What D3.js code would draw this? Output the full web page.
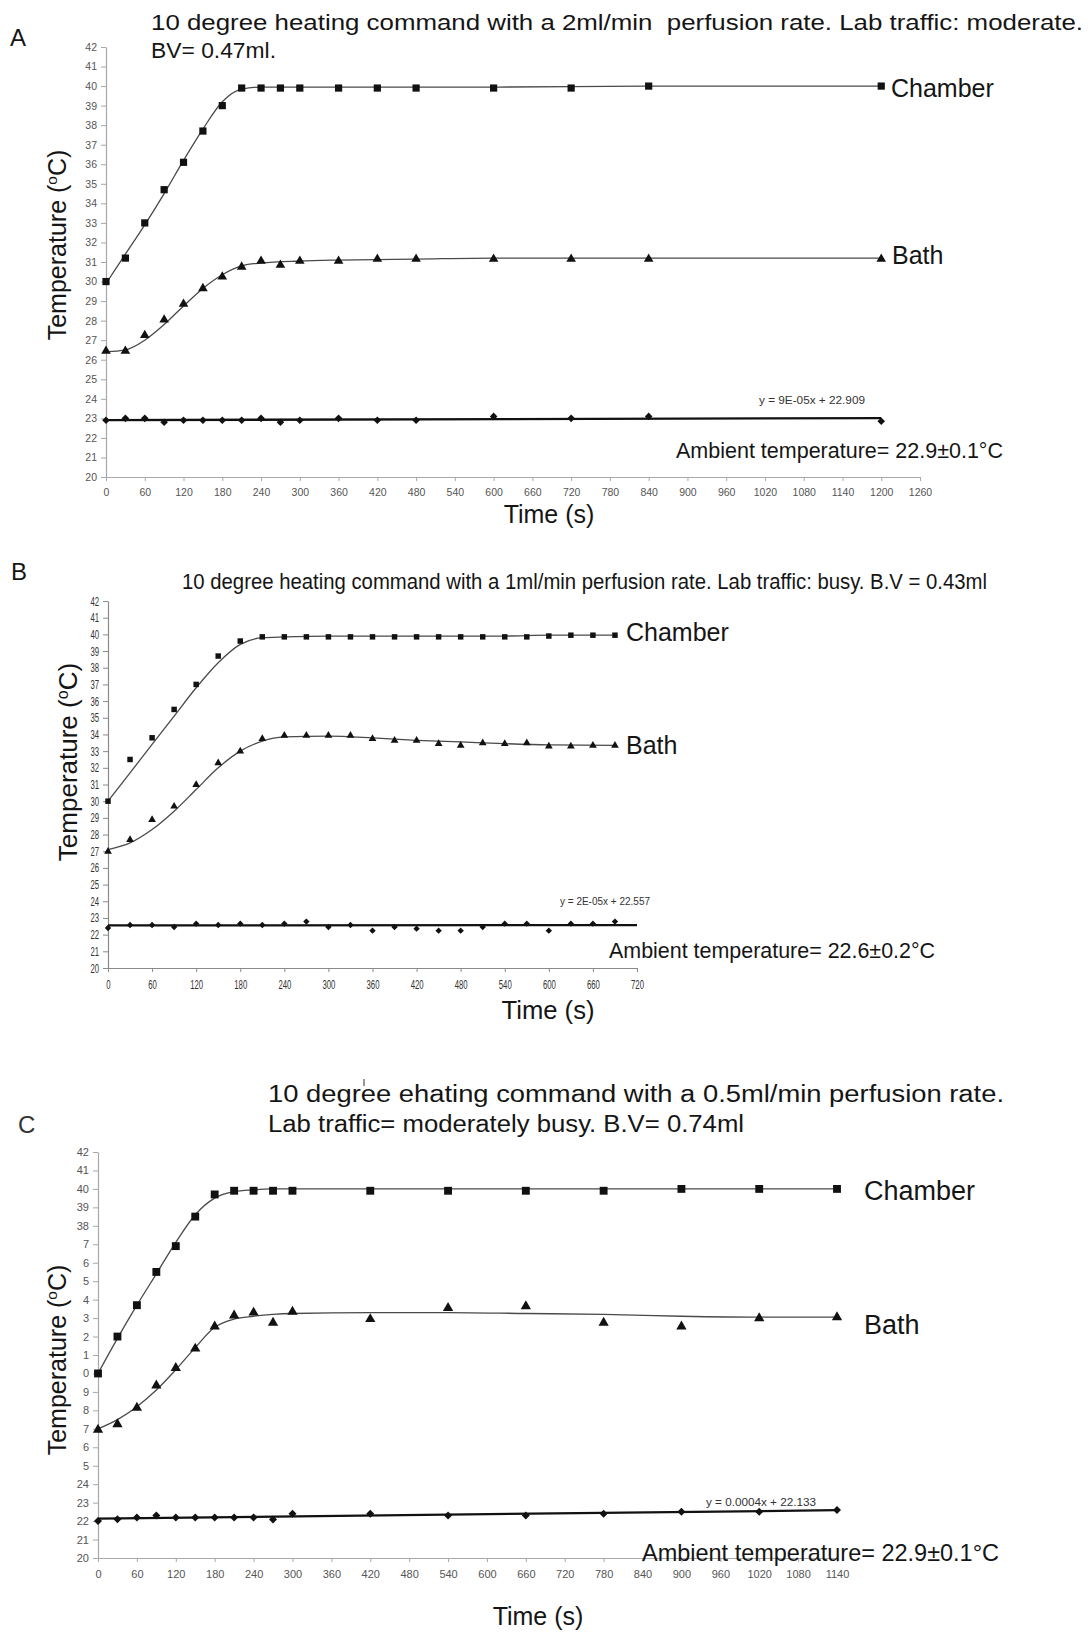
<!DOCTYPE html>
<html><head><meta charset="utf-8">
<script src="https://cdn.jsdelivr.net/npm/d3@7"></script>
<style>
body{margin:0;background:#fff}
svg{display:block}
text{font-family:"Liberation Sans",Arial,Helvetica,sans-serif}
</style>
</head><body>
<svg id="c" width="1091" height="1632"></svg>
<script>
// ---------- shared tick data ----------
const yTickValues = [42,41,40,39,38,37,36,35,34,33,32,31,30,29,28,27,26,25,24,23,22,21,20];
const yTickLabels = ["42","41","40","39","38","37","36","35","34","33","32","31","30","29","28","27","26","25","24","23","22","21","20"];
const yTickLabelsC = ["42","41","40","39","38","7","6","5","4","3","2","1","0","9","8","7","6","5","24","23","22","21","20"];
const xTicksA = [0,60,120,180,240,300,360,420,480,540,600,660,720,780,840,900,960,1020,1080,1140,1200,1260];
const xTicksB = [0,60,120,180,240,300,360,420,480,540,600,660,720];
const xTicksC = [0,60,120,180,240,300,360,420,480,540,600,660,720,780,840,900,960,1020,1080,1140];

// ---------- panel A ----------
const timesA   = [0,30,60,90,120,150,180,210,240,270,300,360,420,480,600,720,840,1200];
const chamberA = [30.0,31.2,33.0,34.7,36.1,37.7,39.0,39.9,39.9,39.9,39.9,39.9,39.9,39.9,39.9,39.9,40.0,40.0];
const bathA    = [26.5,26.5,27.3,28.1,28.9,29.7,30.3,30.8,31.1,30.9,31.1,31.1,31.2,31.2,31.2,31.2,31.2,31.2];
const ambientA = [22.9,23.0,23.0,22.8,22.9,22.9,22.9,22.9,23.0,22.8,22.9,23.0,22.9,22.9,23.1,23.0,23.1,22.85];
const fitTimesA   = [0,30,60,90,120,150,180,210,240,300,360,480,600,840,1200];
const chamberFitA = [29.9,31.4,32.9,34.5,36.2,37.8,39.2,39.85,39.95,39.95,39.95,39.95,39.95,40.0,40.0];
const bathFitA    = [26.4,26.5,27.0,27.8,28.75,29.65,30.35,30.8,30.95,31.05,31.1,31.15,31.2,31.2,31.2];
const trendTimesA = [0,1200];
const trendA      = [22.909,23.017];

// ---------- panel B ----------
const timesB   = [0,30,60,90,120,150,180,210,240,270,300,330,360,390,420,450,480,510,540,570,600,630,660,690];
const chamberB = [30.0,32.5,33.8,35.5,37.0,38.7,39.6,39.85,39.85,39.85,39.85,39.85,39.85,39.85,39.85,39.85,39.85,39.85,39.85,39.85,39.9,39.95,39.95,39.95];
const bathB    = [27.05,27.75,28.95,29.75,31.05,32.35,33.05,33.8,34.0,34.0,34.0,34.0,33.8,33.7,33.7,33.5,33.4,33.55,33.5,33.55,33.35,33.35,33.4,33.4];
const ambientB = [22.4,22.58,22.58,22.46,22.66,22.58,22.66,22.58,22.66,22.78,22.46,22.58,22.24,22.46,22.36,22.24,22.24,22.46,22.66,22.66,22.24,22.66,22.66,22.78];
const fitTimesB   = [0,30,60,90,120,150,180,210,240,300,360,420,480,540,600,690];
const chamberFitB = [30.0,31.7,33.4,35.1,36.8,38.3,39.4,39.8,39.85,39.9,39.9,39.9,39.9,39.9,39.95,39.95];
const bathFitB    = [27.1,27.5,28.3,29.4,30.7,32.0,33.0,33.6,33.85,33.9,33.8,33.65,33.55,33.45,33.38,33.35];
const trendTimesB = [0,720];
const trendB      = [22.557,22.571];

// ---------- panel C ----------
const timesC   = [0,30,60,90,120,150,180,210,240,270,300,420,540,660,780,900,1020,1140];
const chamberC = [30.0,32.0,33.7,35.5,36.9,38.5,39.7,39.9,39.9,39.9,39.9,39.9,39.9,39.9,39.9,40.0,40.0,40.0];
const bathC    = [27.0,27.3,28.2,29.4,30.35,31.4,32.6,33.2,33.35,32.8,33.4,33.0,33.6,33.7,32.8,32.6,33.05,33.1];
const ambientC = [22.0,22.1,22.2,22.3,22.2,22.2,22.2,22.2,22.2,22.08,22.4,22.4,22.3,22.3,22.4,22.5,22.5,22.6];
const fitTimesC   = [0,30,60,90,120,150,180,210,240,270,300,420,540,660,780,900,1020,1140];
const chamberFitC = [30.0,31.9,33.7,35.4,37.1,38.6,39.5,39.85,39.95,40.0,40.0,40.0,40.0,40.0,40.0,40.0,40.0,40.0];
const bathFitC    = [27.0,27.5,28.2,29.1,30.2,31.4,32.5,32.95,33.1,33.2,33.25,33.3,33.3,33.25,33.2,33.1,33.05,33.05];
const trendTimesC = [0,1140];
const trendC      = [22.133,22.589];

const svg = d3.select("#c");

function txt(x, y, s, size, opt = {}) {
  const t = svg.append("text").attr("x", x).attr("y", y)
    .attr("font-size", size).attr("fill", opt.fill || "#151515").text(s);
  if (opt.anchor) t.attr("text-anchor", opt.anchor);
  if (opt.len) t.attr("textLength", opt.len).attr("lengthAdjust", "spacingAndGlyphs");
  if (opt.pre) t.style("white-space", "pre");
  return t;
}

function yTitle(x, y, size) {
  const t = svg.append("text").attr("transform", `translate(${x},${y}) rotate(-90)`)
    .attr("text-anchor", "middle").attr("font-size", size).attr("fill", "#151515");
  t.append("tspan").text("Temperature (");
  t.append("tspan").attr("font-size", size * 0.62).attr("dy", -size * 0.36).text("o");
  t.append("tspan").attr("dy", size * 0.36).text("C)");
}

function diamondPath(r) { return `M0,${-r}L${r},0L0,${r}L${-r},0Z`; }

function panel(o) {
  const g = svg.append("g");
  const x = d3.scaleLinear().domain([0, o.xMax]).range([o.x0, o.x1]);
  const y = d3.scaleLinear().domain([20, 42]).range([o.y0, o.y1]);

  const ya = d3.axisLeft(y).tickValues(yTickValues)
    .tickFormat((d, i) => o.yLabels[i]).tickSize(5).tickPadding(4).tickSizeOuter(0);
  const xa = d3.axisBottom(x).tickValues(o.xTicks).tickFormat(d => String(d))
    .tickSize(4).tickPadding(8).tickSizeOuter(0);

  const gy = g.append("g").attr("transform", `translate(${o.x0},0)`).call(ya);
  const gx = g.append("g").attr("transform", `translate(0,${o.y0})`).call(xa);
  [gx, gy].forEach(a => {
    a.select(".domain").attr("stroke", o.axisColor).attr("stroke-width", 1.2);
    a.selectAll(".tick line").attr("stroke", o.axisColor);
    a.selectAll(".tick text").attr("fill", o.tickColor).attr("font-size", o.tickSize)
      .attr("font-family", '"Liberation Sans",Arial,sans-serif');
  });
  if (o.squeeze) {
    [gx, gy].forEach(a => a.selectAll(".tick text").each(function () {
      const L = this.getComputedTextLength();
      d3.select(this).attr("textLength", L * o.squeeze).attr("lengthAdjust", "spacingAndGlyphs");
    }));
  }

  const line = d3.line().x(d => x(d[0])).y(d => y(d[1])).curve(d3.curveMonotoneX);
  g.append("path").datum(o.fitT.map((t, i) => [t, o.chFit[i]]))
    .attr("d", line).attr("fill", "none").attr("stroke", "#4a4a4a").attr("stroke-width", 1.3);
  g.append("path").datum(o.fitT.map((t, i) => [t, o.baFit[i]]))
    .attr("d", line).attr("fill", "none").attr("stroke", "#4a4a4a").attr("stroke-width", 1.3);
  g.append("path").datum(o.trT.map((t, i) => [t, o.tr[i]]))
    .attr("d", d3.line().x(d => x(d[0])).y(d => y(d[1])))
    .attr("fill", "none").attr("stroke", "#111").attr("stroke-width", 2.3);

  const sq = d3.symbol(d3.symbolSquare, o.sqSize);
  const tri = d3.symbol(d3.symbolTriangle, o.triSize);
  g.selectAll(null).data(o.t.map((t, i) => [t, o.ch[i]])).join("path")
    .attr("d", sq).attr("fill", "#111")
    .attr("transform", d => `translate(${x(d[0])},${y(d[1])})`);
  g.selectAll(null).data(o.t.map((t, i) => [t, o.ba[i]])).join("path")
    .attr("d", tri).attr("fill", "#111")
    .attr("transform", d => `translate(${x(d[0])},${y(d[1]) + 1})`);
  g.selectAll(null).data(o.t.map((t, i) => [t, o.am[i]])).join("path")
    .attr("d", diamondPath(o.diaR)).attr("fill", "#111")
    .attr("transform", d => `translate(${x(d[0])},${y(d[1])})`);
}

// ---------- Panel A ----------
panel({xMax: 1260, x0: 106, x1: 920, y0: 477, y1: 47, xTicks: xTicksA, yLabels: yTickLabels,
  axisColor: "#a8a8a8", tickColor: "#555", tickSize: 10.5,
  t: timesA, ch: chamberA, ba: bathA, am: ambientA,
  fitT: fitTimesA, chFit: chamberFitA, baFit: bathFitA, trT: trendTimesA, tr: trendA,
  sqSize: 52, triSize: 40, diaR: 3.8});
txt(10, 46, "A", 24);
txt(151, 30, "10 degree heating command with a 2ml/min  perfusion rate. Lab traffic: moderate.", 22, {len: 932, pre: true});
txt(151, 58, "BV= 0.47ml.", 22, {len: 125});
yTitle(66, 245, 25);
txt(549, 523, "Time (s)", 25, {anchor: "middle"});
txt(891, 97, "Chamber", 25);
txt(892, 264, "Bath", 25);
txt(759, 404, "y = 9E-05x + 22.909", 11, {fill: "#333", len: 106});
txt(676, 458, "Ambient temperature= 22.9±0.1°C", 22, {len: 327});

// ---------- Panel B ----------
panel({xMax: 720, x0: 108, x1: 637, y0: 968, y1: 601, xTicks: xTicksB, yLabels: yTickLabels,
  axisColor: "#8a8a8a", tickColor: "#333", tickSize: 12.5, squeeze: 0.62,
  t: timesB, ch: chamberB, ba: bathB, am: ambientB,
  fitT: fitTimesB, chFit: chamberFitB, baFit: bathFitB, trT: trendTimesB, tr: trendB,
  sqSize: 30, triSize: 26, diaR: 3.2});
txt(11, 580, "B", 24);
txt(182, 589, "10 degree heating command with a 1ml/min perfusion rate. Lab traffic: busy. B.V = 0.43ml", 22, {len: 805});
yTitle(77, 762, 26);
txt(548, 1019, "Time (s)", 25, {anchor: "middle", len: 93});
txt(626, 641, "Chamber", 25);
txt(626, 754, "Bath", 25);
txt(560, 905, "y = 2E-05x + 22.557", 11, {fill: "#333", len: 90});
txt(609, 958, "Ambient temperature= 22.6±0.2°C", 22, {len: 326});

// ---------- Panel C ----------
panel({xMax: 1140, x0: 98, x1: 837, y0: 1558, y1: 1152, xTicks: xTicksC, yLabels: yTickLabelsC,
  axisColor: "#a8a8a8", tickColor: "#555", tickSize: 11,
  t: timesC, ch: chamberC, ba: bathC, am: ambientC,
  fitT: fitTimesC, chFit: chamberFitC, baFit: bathFitC, trT: trendTimesC, tr: trendC,
  sqSize: 62, triSize: 46, diaR: 4});
txt(18, 1133, "C", 24, {fill: "#333"});
txt(268, 1102, "10 degree ehating command with a 0.5ml/min perfusion rate.", 23, {len: 736});
svg.append("path").attr("d", "M364,1079V1086").attr("stroke", "#555").attr("stroke-width", 1.2);
txt(268, 1132, "Lab traffic= moderately busy. B.V= 0.74ml", 23, {len: 476});
yTitle(66, 1360, 25);
txt(538, 1625, "Time (s)", 25, {anchor: "middle"});
txt(864, 1200, "Chamber", 27);
txt(864, 1334, "Bath", 27);
txt(706, 1506, "y = 0.0004x + 22.133", 11, {fill: "#333", len: 110});
txt(642, 1561, "Ambient temperature= 22.9±0.1°C", 24, {len: 357});
</script>
</body></html>
